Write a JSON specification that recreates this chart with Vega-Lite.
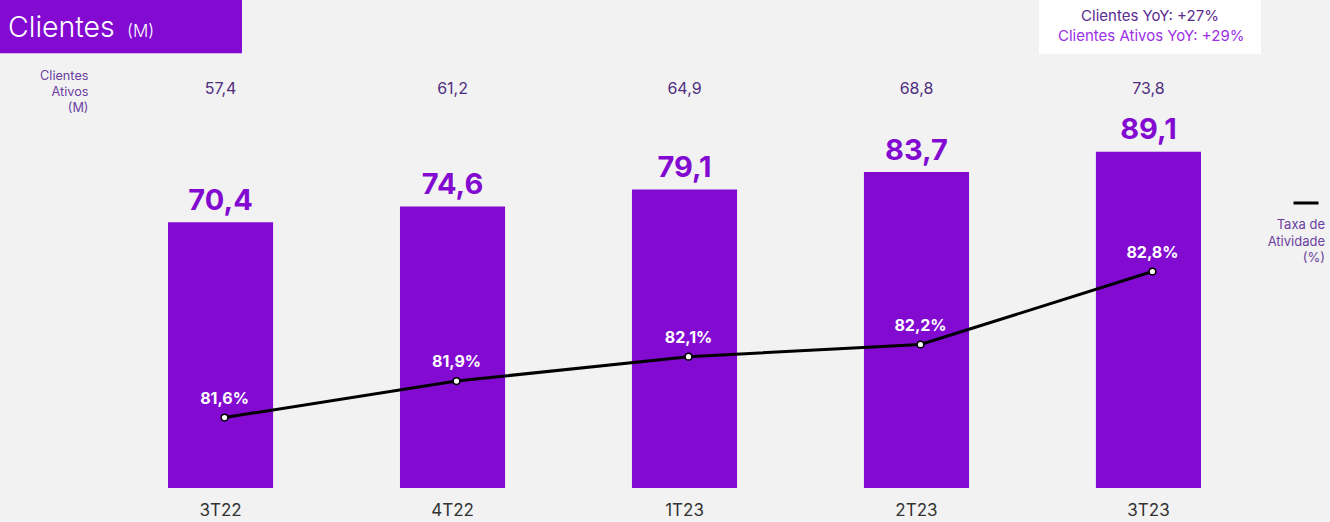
{
  "$schema": "https://vega.github.io/schema/vega-lite/v6.json",
  "width": 1330,
  "height": 488,
  "autosize": {"type": "none"},
  "padding": {"left": 0, "top": 0, "right": 0, "bottom": 34},
  "background": "#f2f2f2",
  "config": {"view": {"stroke": null}, "font": "Inter"},
  "data": {"values": [
    {"trimestre": "3T22", "clientes": 70.4, "ativos": 57.4, "taxa": 81.6},
    {"trimestre": "4T22", "clientes": 74.6, "ativos": 61.2, "taxa": 81.9},
    {"trimestre": "1T23", "clientes": 79.1, "ativos": 64.9, "taxa": 82.1},
    {"trimestre": "2T23", "clientes": 83.7, "ativos": 68.8, "taxa": 82.2},
    {"trimestre": "3T23", "clientes": 89.1, "ativos": 73.8, "taxa": 82.8}
  ]},
  "transform": [
    {"calculate": "replace(format(datum.clientes, '.1f'), '.', ',')", "as": "clientes_lbl"},
    {"calculate": "replace(format(datum.ativos, '.1f'), '.', ',')", "as": "ativos_lbl"},
    {"calculate": "replace(format(datum.taxa, '.1f'), '.', ',') + '%'", "as": "taxa_lbl"}
  ],
  "encoding": {
    "x": {
      "field": "trimestre", "type": "nominal", "sort": null,
      "scale": {"range": [168, 1201], "paddingInner": 0.547, "paddingOuter": 0},
      "axis": {"title": null, "labelAngle": 0, "labelFontSize": 17, "labelColor": "#333333", "ticks": false, "domain": false, "labelPadding": 14}
    }
  },
  "layer": [
    {
      "layer": [
        {
          "mark": {"type": "bar"},
          "encoding": {
            "y": {"field": "clientes", "type": "quantitative", "scale": {"domain": [0, 129.3], "nice": false}, "axis": null},
            "color": {
              "datum": "(M)",
              "scale": {"range": ["#820ad1"]},
              "legend": {
                "orient": "none", "legendX": -2, "legendY": -5.7, "padding": 10,
                "fillColor": "#820ad1",
                "title": "Clientes", "titleOrient": "left", "titleAnchor": "end", "titleBaseline": "bottom",
                "titleFontSize": 28.5, "titleFontWeight": 300, "titleColor": "white", "titlePadding": 0,
                "labelColor": "white", "labelFontSize": 17, "labelFontWeight": 300, "labelBaseline": "top", "labelOffset": -105, "labelLimit": 0,
                "symbolType": "square", "symbolSize": 1500, "symbolOffset": 78, "symbolOpacity": 0, "symbolStrokeWidth": 0
              }
            }
          }
        },
        {
          "mark": {"type": "text", "fontSize": 29, "fontWeight": "bold", "color": "#820ad1", "baseline": "alphabetic", "dy": -12.5},
          "encoding": {
            "y": {"field": "clientes", "type": "quantitative"},
            "text": {"field": "clientes_lbl"}
          }
        }
      ]
    },
    {
      "mark": {"type": "text", "fontSize": 16, "baseline": "alphabetic"},
      "encoding": {
        "y": {
          "datum": 104.3, "type": "quantitative",
          "scale": {"domain": [0, 129.3], "nice": false},
          "axis": {
            "orient": "left", "labels": false, "ticks": false, "domain": false, "grid": false,
            "title": ["Clientes", "Ativos", "(M)"], "titleAngle": 0, "titleAlign": "right", "titleBaseline": "alphabetic",
            "titleX": 88, "titleY": 79, "titleFontSize": 12.7, "titleFontWeight": "normal", "titleColor": "#6b3fa0", "titleLineHeight": 16
          }
        },
        "text": {"field": "ativos_lbl"},
        "color": {
          "datum": "Clientes Ativos YoY: +29%",
          "scale": {"range": ["#4f2d7f"]},
          "legend": {
            "orient": "none", "legendX": 1039, "legendY": 0, "padding": 9,
            "fillColor": "white",
            "title": "Clientes YoY: +27%", "titleFontSize": 15, "titleFontWeight": "normal", "titleColor": "#5b2c8f", "titleAnchor": "middle", "titlePadding": 4.7,
            "labelColor": "#9b30e6", "labelFontSize": 15, "labelOffset": -201, "labelLimit": 0,
            "symbolOpacity": 0, "symbolSize": 1, "symbolStrokeWidth": 0, "symbolOffset": 196
          }
        }
      }
    },
    {
      "layer": [
        {
          "mark": {"type": "line", "strokeWidth": 3, "xOffset": 4},
          "encoding": {
            "y": {"field": "taxa", "type": "quantitative", "scale": {"domain": [81.021, 85.031], "nice": false, "zero": false}, "axis": null},
            "color": {
              "datum": "Taxa de Atividade (%)",
              "scale": {"range": ["#000000"]},
              "legend": {
                "orient": "none", "legendX": 1247, "legendY": 189, "padding": 0,
                "symbolType": "stroke", "symbolSize": 625, "symbolStrokeWidth": 3, "symbolOffset": 45,
                "labelExpr": "''", "labelOffset": -30,
                "title": ["Taxa de", "Atividade", "(%)"], "titleOrient": "bottom", "titleAnchor": "end", "titleAlign": "right",
                "titleFontSize": 13, "titleFontWeight": "normal", "titleColor": "#6b3fa0", "titleLineHeight": 16.5, "titlePadding": 10
              }
            }
          }
        },
        {
          "mark": {"type": "point", "filled": true, "fill": "white", "stroke": "black", "strokeWidth": 1.5, "size": 45, "opacity": 1, "xOffset": 4},
          "encoding": {"y": {"field": "taxa", "type": "quantitative"}}
        },
        {
          "mark": {"type": "text", "fontSize": 16, "fontWeight": "bold", "color": "white", "baseline": "alphabetic", "dy": -14, "xOffset": 4},
          "encoding": {
            "y": {"field": "taxa", "type": "quantitative"},
            "text": {"field": "taxa_lbl"}
          }
        }
      ]
    }
  ],
  "resolve": {"scale": {"y": "independent", "color": "independent"}}
}
